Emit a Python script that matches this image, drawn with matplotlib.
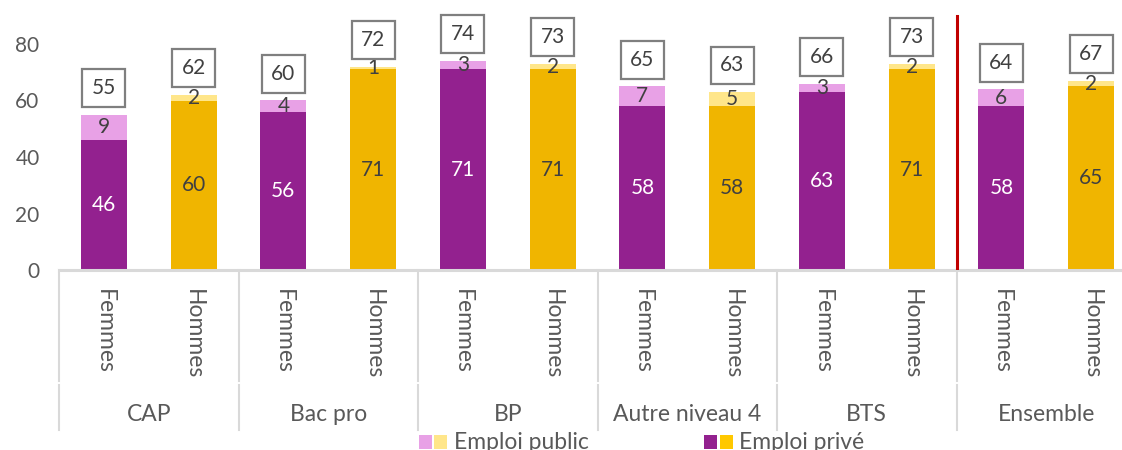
import matplotlib.pyplot as plt
from matplotlib.patches import Rectangle
from matplotlib.lines import Line2D

# donnees
diplomes = ['CAP', 'Bac pro', 'BP', 'Autre niveau 4', 'BTS', 'Ensemble']
sexes = ['Femmes', 'Hommes']
prive_femmes = [46, 56, 71, 58, 63, 58]
public_femmes = [9, 4, 3, 7, 3, 6]
prive_hommes = [60, 71, 71, 58, 71, 65]
public_hommes = [2, 1, 2, 5, 2, 2]

violet = '#93218F'
rose = '#E8A1E6'
jaune = '#F0B500'
jaune_clair = '#FFE68A'
gris_texte = '#404040'
gris_axe = '#595959'
gris_ligne = '#D9D9D9'

plt.rcParams['font.family'] = ['Lato', 'DejaVu Sans']
fs = 15       # chiffres
fs_txt = 16.5  # libelles

fig = plt.figure(figsize=(11.22, 4.5), dpi=100)
# y=0 a 270 px du haut, barres espacees de ~89.75 px, premiere case a 59 px
ax = fig.add_axes([59 / 1122, 0.4, 12 * 89.75 / 1122, 0.6])
ax.set_xlim(-0.5, 11.5)
ax.set_ylim(0, 270 / 2.825)

largeur = 0.51
for i in range(len(diplomes)):
    for j, sexe in enumerate(sexes):
        x = 2 * i + j
        if sexe == 'Femmes':
            prive, public = prive_femmes[i], public_femmes[i]
            c1, c2, ctxt = violet, rose, 'white'
        else:
            prive, public = prive_hommes[i], public_hommes[i]
            c1, c2, ctxt = jaune, jaune_clair, gris_texte
        total = prive + public
        ax.bar(x, prive, width=largeur, color=c1, zorder=2)
        ax.bar(x, public, bottom=prive, width=largeur, color=c2, zorder=2)
        ax.text(x, prive / 2, str(prive), ha='center', va='center',
                color=ctxt, fontsize=fs, zorder=3)
        ax.text(x, prive + public / 2, str(public), ha='center', va='center',
                color=gris_texte, fontsize=fs, zorder=3)
        # etiquette du total dans un cadre
        ax.add_patch(Rectangle((x - 0.24, total + 2.7), 0.48, 13.4,
                               facecolor='white', edgecolor='#7F7F7F',
                               linewidth=1.6, zorder=3, clip_on=False))
        ax.text(x, total + 9.4, str(total), ha='center', va='center',
                color=gris_texte, fontsize=fs, zorder=4)
        # libelle du sexe, vertical
        ax.text(x, -0.07, sexe, transform=ax.get_xaxis_transform(),
                rotation=-90, ha='center', va='top', color=gris_axe,
                fontsize=fs_txt, clip_on=False)
    ax.text(2 * i + 0.5, -0.535, diplomes[i], transform=ax.get_xaxis_transform(),
            ha='center', va='center', color=gris_axe, fontsize=fs_txt, clip_on=False)

# separateurs de groupes sous l'axe
for k in range(len(diplomes) + 1):
    xs = 2 * k - 0.5
    for y0, y1 in [(0, -0.411), (-0.426, -0.593)]:
        ax.add_line(Line2D([xs, xs], [y0, y1], transform=ax.get_xaxis_transform(),
                           color=gris_ligne, linewidth=1.5, clip_on=False))

# trait rouge avant Ensemble
ax.plot([9.5, 9.5], [0, 90], color='#C00000', linewidth=2.2, zorder=4)

ax.set_yticks([0, 20, 40, 60, 80])
ax.set_xticks([])
ax.tick_params(axis='y', length=0, labelsize=fs, labelcolor=gris_axe, pad=14)
for s in ['top', 'right', 'left']:
    ax.spines[s].set_visible(False)
ax.spines['bottom'].set_color(gris_ligne)
ax.spines['bottom'].set_linewidth(2.2)

# legende
for x0, couleur in [(419, rose), (434, jaune_clair), (704, violet), (720, '#FFC800')]:
    fig.patches.append(Rectangle((x0 / 1122, 1 - 449 / 450), 13 / 1122, 14 / 450,
                                 transform=fig.transFigure, facecolor=couleur,
                                 edgecolor='none'))
fig.text(454 / 1122, 1 - 449 / 450, 'Emploi public', fontsize=fs_txt, color=gris_axe,
         ha='left', va='baseline')
fig.text(739 / 1122, 1 - 449 / 450, 'Emploi privé', fontsize=fs_txt, color=gris_axe,
         ha='left', va='baseline')

fig.savefig('out.png', dpi=100)
